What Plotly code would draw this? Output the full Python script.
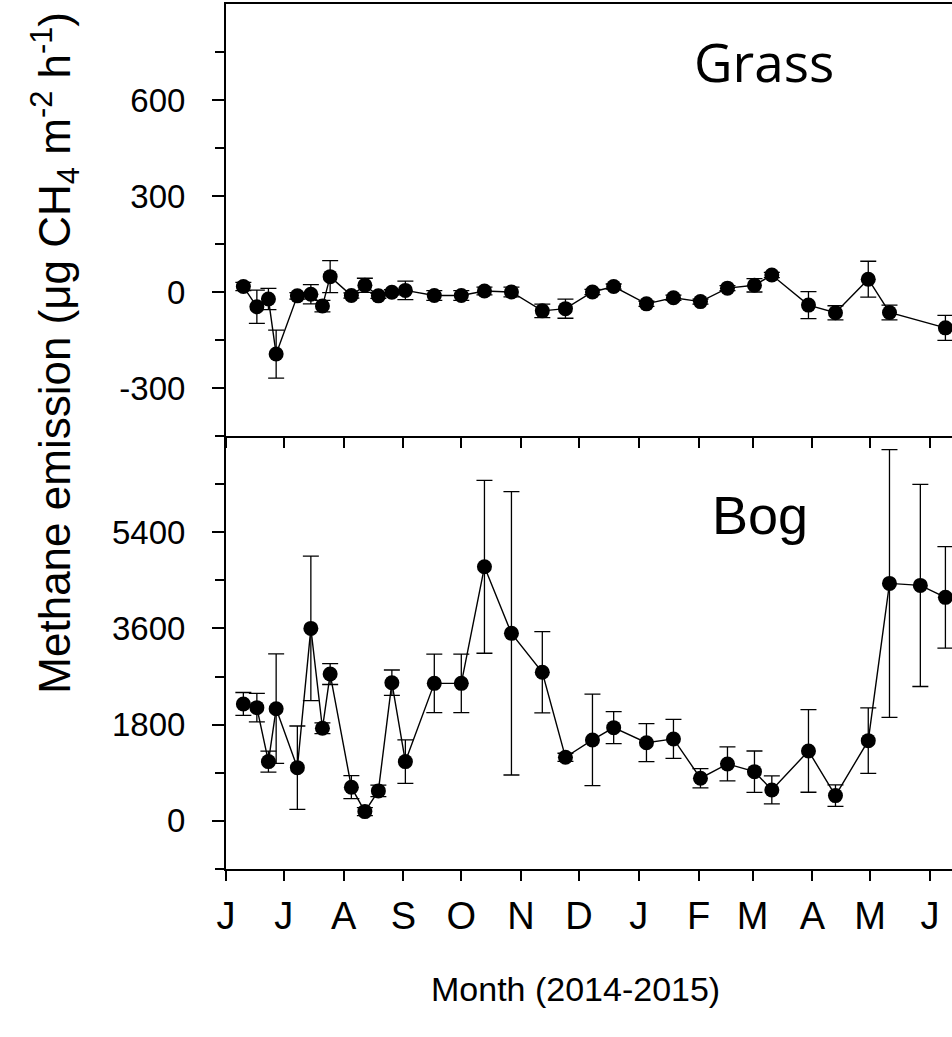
import plotly.graph_objects as go

# Sampling dates and CH4 flux (mean ± SE) for the two sites
grass_dates = [
    "2014-06-10", "2014-06-17", "2014-06-23", "2014-06-27", "2014-07-08", "2014-07-15",
    "2014-07-21", "2014-07-25", "2014-08-05", "2014-08-12", "2014-08-19", "2014-08-26",
    "2014-09-02", "2014-09-17", "2014-10-01", "2014-10-13", "2014-10-27", "2014-11-12",
    "2014-11-24", "2014-12-08", "2014-12-19", "2015-01-05", "2015-01-19", "2015-02-02",
    "2015-02-16", "2015-03-02", "2015-03-11", "2015-03-30", "2015-04-13", "2015-04-30",
    "2015-05-11", "2015-06-09",
]
grass_flux = [17, -46, -22, -194, -12, -7, -44, 48, -11, 21, -12, -1, 5, -11, -11, 3,
              0, -59, -52, 0, 17, -37, -18, -30, 12, 21, 53, -41, -65, 40, -64, -112]
grass_se = [13, 52, 33, 75, 10, 30, 18, 50, 8, 22, 8, 8, 29, 15, 15, 12,
            15, 21, 30, 8, 8, 8, 8, 8, 8, 21, 8, 42, 22, 56, 23, 39]

bog_dates = [
    "2014-06-10", "2014-06-17", "2014-06-23", "2014-06-27", "2014-07-08", "2014-07-15",
    "2014-07-21", "2014-07-25", "2014-08-05", "2014-08-12", "2014-08-19", "2014-08-26",
    "2014-09-02", "2014-09-17", "2014-10-01", "2014-10-13", "2014-10-27", "2014-11-12",
    "2014-11-24", "2014-12-08", "2014-12-19", "2015-01-05", "2015-01-19", "2015-02-02",
    "2015-02-16", "2015-03-02", "2015-03-11", "2015-03-30", "2015-04-13", "2015-04-30",
    "2015-05-11", "2015-05-27", "2015-06-09",
]
bog_flux = [2187, 2118, 1109, 2099, 996, 3601, 1732, 2747, 630, 174, 561, 2585, 1109,
            2573, 2573, 4753, 3508, 2779, 1190, 1514, 1744, 1463, 1533, 798, 1065, 921,
            579, 1308, 473, 1501, 4442, 4405, 4181]
bog_se = [215, 267, 196, 1025, 779, 1351, 100, 196, 215, 75, 109, 237, 408, 548, 548,
          1617, 2650, 760, 75, 856, 299, 355, 364, 181, 318, 386, 262, 772, 202, 613,
          2504, 1891, 950]

month_ticks = ["2014-06-01", "2014-07-01", "2014-08-01", "2014-09-01", "2014-10-01",
               "2014-11-01", "2014-12-01", "2015-01-01", "2015-02-01", "2015-03-01",
               "2015-04-01", "2015-05-01", "2015-06-01"]
month_labels = ["J", "J", "A", "S", "O", "N", "D", "J", "F", "M", "A", "M", "J"]

grass_major = [-300, 0, 300, 600]
grass_major_text = ["-300", "0", "300", "600"]
grass_minor = [-450, -150, 150, 450, 750]
bog_major = [0, 1800, 3600, 5400]
bog_major_text = ["0", "1800", "3600", "5400"]
bog_minor = [-900, 900, 2700, 4500, 6300, 7200]

FONT = "Liberation Sans, Arial, Helvetica, sans-serif"
x_range = ["2014-06-01", "2015-06-12 10:00"]


def series(x, y, err, xa, ya):
    return go.Scatter(
        x=x, y=y, xaxis=xa, yaxis=ya, mode="lines+markers",
        line=dict(color="black", width=1.4),
        marker=dict(color="black", size=15),
        error_y=dict(type="data", array=err, visible=True, color="black",
                     thickness=1.3, width=8),
        showlegend=False, cliponaxis=False,
    )


fig = go.Figure()
fig.add_trace(series(grass_dates, grass_flux, grass_se, "x2", "y2"))
fig.add_trace(series(bog_dates, bog_flux, bog_se, "x", "y"))

split = 0.5006
axis_line = dict(showline=True, linecolor="black", linewidth=2, showgrid=False,
                 zeroline=False, tickcolor="black", tickwidth=1.5)

fig.update_layout(
    width=952, height=1037,
    margin=dict(l=226, r=0, t=4, b=168),
    paper_bgcolor="white", plot_bgcolor="white",
    font=dict(family=FONT, color="black"),
    showlegend=False,
    xaxis=dict(
        type="date", range=x_range, domain=[0, 1], anchor="y",
        ticks="outside", ticklen=10, tickmode="array",
        tickvals=month_ticks, ticktext=month_labels,
        tickfont=dict(family=FONT, size=38, color="black"),
        ticklabelstandoff=2,
        **axis_line,
    ),
    xaxis2=dict(
        type="date", range=x_range, domain=[0, 1], anchor="y2", matches="x",
        ticks="outside", ticklen=10, tickmode="array", tickvals=month_ticks,
        showticklabels=False, mirror=True,
        **axis_line,
    ),
    yaxis=dict(
        domain=[0, split], range=[-900, 7200], anchor="x",
        ticks="outside", ticklen=12, tickmode="array",
        tickvals=bog_major, ticktext=bog_major_text,
        tickfont=dict(family=FONT, size=33, color="black"),
        ticklabelstandoff=20,
        minor=dict(tickmode="array", tickvals=bog_minor, ticks="outside",
                   ticklen=9, tickcolor="black", tickwidth=1.5, showgrid=False),
        **axis_line,
    ),
    yaxis2=dict(
        domain=[split, 1], range=[-450, 900], anchor="x2",
        ticks="outside", ticklen=12, tickmode="array",
        tickvals=grass_major, ticktext=grass_major_text,
        tickfont=dict(family=FONT, size=33, color="black"),
        ticklabelstandoff=20,
        minor=dict(tickmode="array", tickvals=grass_minor, ticks="outside",
                   ticklen=9, tickcolor="black", tickwidth=1.5, showgrid=False),
        **axis_line,
    ),
)

annotations = [
    dict(text="Grass", x=0.7404, y=0.934, xref="paper", yref="paper",
         xanchor="center", yanchor="middle", showarrow=False,
         font=dict(family="Open Sans, Noto Sans, sans-serif", size=53, color="black")),
    dict(text="Bog", x=0.7362, y=0.4092, xref="paper", yref="paper",
         xanchor="center", yanchor="middle", showarrow=False,
         font=dict(family=FONT, size=54, color="black")),
    dict(text="Methane emission (μg CH<sub>4</sub> m<sup>-2</sup> h<sup>-1</sup>)",
         x=-0.236, y=0.5965, xref="paper", yref="paper", textangle=-90,
         xanchor="center", yanchor="middle", showarrow=False,
         font=dict(family=FONT, size=44, color="black")),
    dict(text="Month (2014-2015)", x=0.482, y=-0.139, xref="paper", yref="paper",
         xanchor="center", yanchor="middle", showarrow=False,
         font=dict(family=FONT, size=34, color="black")),
]
fig.update_layout(annotations=annotations)

fig.write_html("out.html")
